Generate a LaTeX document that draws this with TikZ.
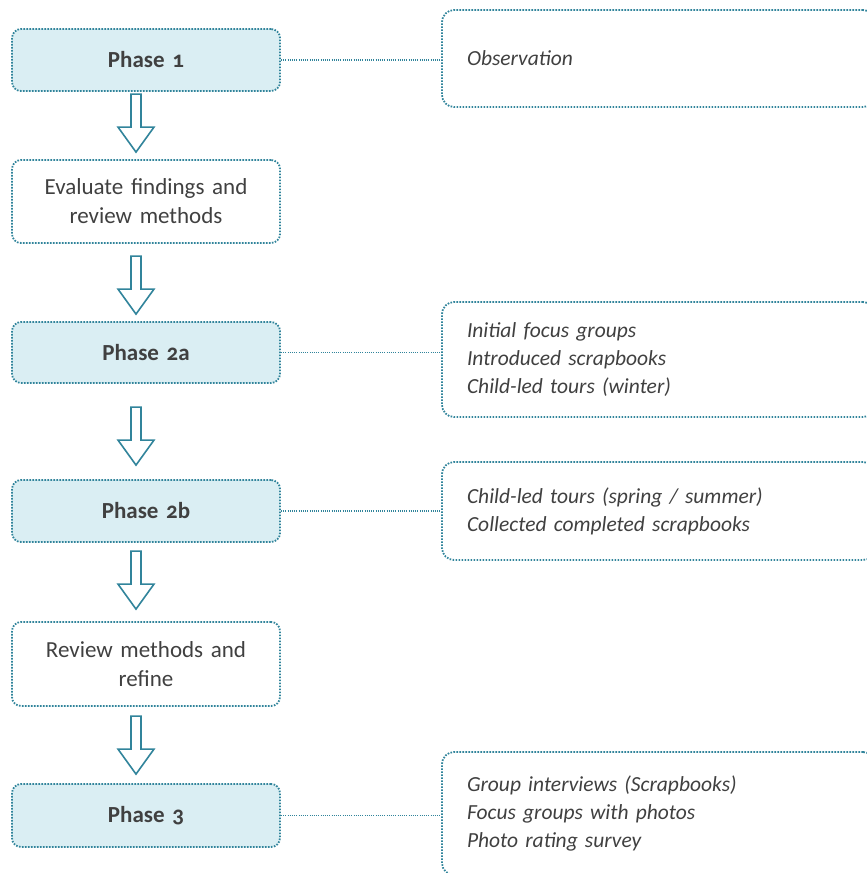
\documentclass[tikz,border=0pt]{standalone}
\usepackage{fontspec}
\setmainfont{Carlito}[Numbers=OldStyle]
\usetikzlibrary{calc}
\definecolor{teal}{HTML}{31849B}
\definecolor{lightblue}{HTML}{DAEEF3}
\definecolor{txt}{HTML}{404040}
\begin{document}
\begin{tikzpicture}[x=1pt,y=-1pt,
  box/.style={draw=teal, dash pattern=on 1.6pt off 1.4pt, line width=1.8pt,
    rounded corners=9pt, minimum width=268pt, text width=250pt, align=center,
    inner sep=0pt, text=txt, font=\fontsize{23}{29}\selectfont},
  phase/.style={box, fill=lightblue, font=\bfseries\fontsize{23}{24}\selectfont},
  info/.style={draw=teal, dash pattern=on 1.6pt off 1.4pt, line width=1.8pt,
    rounded corners=12pt, minimum width=433pt, text width=383pt, align=left,
    inner xsep=25pt, inner ysep=0pt, text=txt, font=\itshape\fontsize{21.5}{28}\selectfont},
  conn/.style={draw=teal, dash pattern=on 1pt off 1.2pt, line width=1.1pt},
  arr/.style={draw=teal, line width=1.6pt, fill=white, line join=miter}
]
\useasboundingbox (0,0) rectangle (867,873);
\clip (0,0) rectangle (867,873);

\node[phase, minimum height=62pt] (p1) at (146,60) {Phase 1};
\node[box, minimum height=83pt] (ev) at (146,201.5) {Evaluate findings and\\review methods};
\node[phase, minimum height=61pt] (p2a) at (146,352.5) {Phase 2a};
\node[phase, minimum height=62pt] (p2b) at (146,511) {Phase 2b};
\node[box, minimum height=84pt] (rv) at (146,664) {Review methods and\\refine};
\node[phase, minimum height=63pt] (p3) at (146,815.5) {Phase 3};

\node[info, minimum height=97pt] (o1) at (658.5,58.5) {Observation};
\node[info, minimum height=115pt] (o2a) at (658.5,359.5) {Initial focus groups\\Introduced scrapbooks\\Child-led tours (winter)};
\node[info, minimum height=98pt] (o2b) at (658.5,511) {Child-led tours (spring / summer)\\Collected completed scrapbooks};
\node[info, minimum height=123pt] (o3) at (658.5,813.5) {Group interviews (Scrapbooks)\\Focus groups with photos\\Photo rating survey};

\draw[conn] (p1.east) -- (p1.east -| o1.west);
\draw[conn] (p2a.east) -- (p2a.east -| o2a.west);
\draw[conn] (p2b.east) -- (p2b.east -| o2b.west);
\draw[conn] (p3.east) -- (p3.east -| o3.west);

\foreach \n/\d in {ev/7, p2a/7, p2b/14, rv/12, p3/9}{
  \draw[arr] ($(\n.north)+(-10,-\d)$) -- ++(-18,-25) -- ++(13,0) -- ++(0,-33)
    -- ++(10,0) -- ++(0,33) -- ++(13,0) -- cycle;
}
\end{tikzpicture}
\end{document}
